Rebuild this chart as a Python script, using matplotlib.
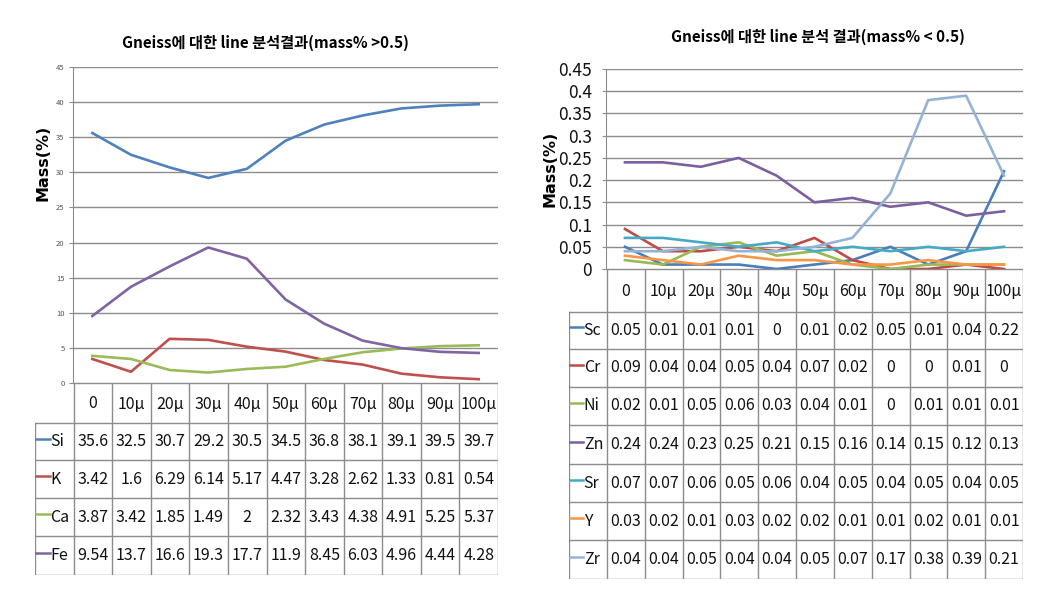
import matplotlib
matplotlib.use("Agg")
import matplotlib.pyplot as plt

W, H = 1049, 595
fig = plt.figure(figsize=(W / 100, H / 100), dpi=100, facecolor="white")

CELL_FONT = ["Noto Sans CJK KR", "DejaVu Sans"]
TITLE_FONT = ["Noto Sans CJK KR", "DejaVu Sans"]

# ── data ──────────────────────────────────────────────────────────────────────
positions = ["0", "10μ", "20μ", "30μ", "40μ", "50μ", "60μ", "70μ", "80μ", "90μ", "100μ"]

major_names = ["Si", "K", "Ca", "Fe"]
si = [35.6, 32.5, 30.7, 29.2, 30.5, 34.5, 36.8, 38.1, 39.1, 39.5, 39.7]
k = [3.42, 1.6, 6.29, 6.14, 5.17, 4.47, 3.28, 2.62, 1.33, 0.81, 0.54]
ca = [3.87, 3.42, 1.85, 1.49, 2, 2.32, 3.43, 4.38, 4.91, 5.25, 5.37]
fe = [9.54, 13.7, 16.6, 19.3, 17.7, 11.9, 8.45, 6.03, 4.96, 4.44, 4.28]
major_values = [si, k, ca, fe]
major_colors = ["#4F81BD", "#C0504D", "#9BBB59", "#8064A2"]

minor_names = ["Sc", "Cr", "Ni", "Zn", "Sr", "Y", "Zr"]
sc = [0.05, 0.01, 0.01, 0.01, 0, 0.01, 0.02, 0.05, 0.01, 0.04, 0.22]
cr = [0.09, 0.04, 0.04, 0.05, 0.04, 0.07, 0.02, 0, 0, 0.01, 0]
ni = [0.02, 0.01, 0.05, 0.06, 0.03, 0.04, 0.01, 0, 0.01, 0.01, 0.01]
zn = [0.24, 0.24, 0.23, 0.25, 0.21, 0.15, 0.16, 0.14, 0.15, 0.12, 0.13]
sr = [0.07, 0.07, 0.06, 0.05, 0.06, 0.04, 0.05, 0.04, 0.05, 0.04, 0.05]
y_ = [0.03, 0.02, 0.01, 0.03, 0.02, 0.02, 0.01, 0.01, 0.02, 0.01, 0.01]
zr = [0.04, 0.04, 0.05, 0.04, 0.04, 0.05, 0.07, 0.17, 0.38, 0.39, 0.21]
minor_values = [sc, cr, ni, zn, sr, y_, zr]
minor_colors = ["#4A7EBB", "#BE4B48", "#98B954", "#7D5FA0", "#46AAC5", "#F79646", "#95B3D7"]

major_ticks = [0, 5, 10, 15, 20, 25, 30, 35, 40, 45]
minor_ticks = [0, 0.05, 0.1, 0.15, 0.2, 0.25, 0.3, 0.35, 0.4, 0.45]


def px_axes(x0, y0, x1, y1):
    return fig.add_axes([x0 / W, 1 - y1 / H, (x1 - x0) / W, (y1 - y0) / H])


def fmt(v):
    return ("%g" % v)


def draw_chart(box, table_y, key_x, names, values, colors, ticks, tick_fmt,
               tick_size, tick_color, tick_pad, title, title_xy, ylabel_xy, grid_color):
    x0, y0, x1, y1 = box
    n = len(positions)
    xs = list(range(n))

    ax = px_axes(x0, y0, x1, y1)
    for vals, c in zip(values, colors):
        ax.plot(xs, vals, color=c, lw=1.9, solid_joinstyle="round")
    ax.set_xlim(-0.5, n - 0.5)
    ax.set_ylim(ticks[0], ticks[-1])
    ax.set_yticks(ticks)
    ax.set_yticklabels([tick_fmt(t) for t in ticks], family=CELL_FONT,
                       fontsize=tick_size, color=tick_color)
    ax.set_xticks([])
    ax.yaxis.grid(True, color=grid_color, lw=1.0)
    ax.set_axisbelow(True)
    for s in ["top", "right", "bottom"]:
        ax.spines[s].set_visible(False)
    ax.spines["left"].set_color(grid_color)
    ax.tick_params(axis="y", length=3, color=grid_color, pad=tick_pad)
    ax.set_facecolor("none")

    # ── data table under the plot ─────────────────────────────────────────────
    rows = table_y  # header top, header bottom, then row bottoms
    tab = px_axes(key_x, rows[0], x1, rows[-1])
    tab.set_xlim(-1.5, n - 0.5)
    tab.set_ylim(rows[-1], rows[0])
    tab.axis("off")
    lc = "#8C8C8C"
    for i in range(n + 1):
        tab.plot([i - 0.5, i - 0.5], [rows[0], rows[-1]], color=lc, lw=1.0)
    tab.plot([-1.5, -1.5], [rows[1], rows[-1]], color=lc, lw=1.0)
    tab.plot([-0.5, n - 0.5], [rows[0], rows[0]], color=lc, lw=1.0)
    for r in rows[1:]:
        tab.plot([-1.5, n - 0.5], [r, r], color=lc, lw=1.0)
    cs = 11.5
    for i, p in enumerate(positions):
        tab.text(i, (rows[0] + rows[1]) / 2 + 1, p, ha="center", va="center",
                 family=CELL_FONT, fontsize=cs, color="#111111")
    for j, (name, vals, c) in enumerate(zip(names, values, colors)):
        yc = (rows[j + 1] + rows[j + 2]) / 2
        tab.plot([-1.47, -1.12], [yc - 3, yc - 3], color=c, lw=1.8)
        tab.text(-1.11, yc, name, ha="left", va="center",
                 family=CELL_FONT, fontsize=cs, color="#111111")
        for i, v in enumerate(vals):
            tab.text(i, yc, fmt(v), ha="center", va="center",
                     family=CELL_FONT, fontsize=cs, color="#111111")

    fig.text(title_xy[0] / W, 1 - title_xy[1] / H, title, ha="center", va="center",
             family=TITLE_FONT, fontsize=11, fontweight="bold")
    fig.text(ylabel_xy[0] / W, 1 - ylabel_xy[1] / H, "Mass(%)", rotation=90,
             ha="center", va="center", fontsize=11.5, fontweight="bold")


draw_chart((73, 67, 498, 383), [383, 423, 460, 498, 536, 575], 35,
           major_names, major_values, major_colors, major_ticks,
           lambda t: "%d" % t, 5.5, "#555555", 3,
           "Gneiss에 대한 line 분석결과(mass% >0.5)", (265, 43), (43, 163), "#8C8C8C")

draw_chart((606, 69, 1023, 269), [269, 312, 349, 387, 425, 464, 502, 540, 579], 569,
           minor_names, minor_values, minor_colors, minor_ticks,
           lambda t: "%g" % t, 12.5, "#111111", 7,
           "Gneiss에 대한 line 분석 결과(mass% < 0.5)", (818, 37), (550, 169), "#8C8C8C")

fig.savefig("out.png", dpi=100, facecolor="white")
